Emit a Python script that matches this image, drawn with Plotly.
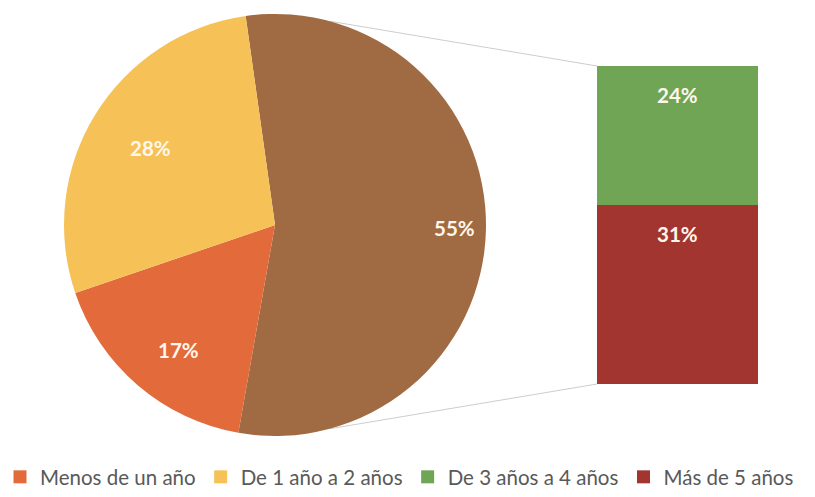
import math
import plotly.graph_objects as go

# Pie: the two short-tenure groups plus the combined "3 years and more" slice
pie_labels = ["3 años o más", "Menos de un año", "De 1 año a 2 años"]
pie_values = [55, 17, 28]

# Bar: breakdown of the combined slice
bar_category = ["3 años o más"]
bar_labels = ["Más de 5 años", "De 3 años a 4 años"]
bar_values = [31, 24]

legend_labels = ["Menos de un año", "De 1 año a 2 años", "De 3 años a 4 años", "Más de 5 años"]

COLORS = {
    "3 años o más": "#A06B42",
    "Menos de un año": "#E26A3B",
    "De 1 año a 2 años": "#F6C257",
    "De 3 años a 4 años": "#70A555",
    "Más de 5 años": "#A2352F",
}

W, H = 815, 497
CX, CY, R = 275, 225, 211          # pie centre / radius in pixels
ROTATION = -8                      # first slice starts just left of 12 o'clock
LABEL_RADIUS = [0.85, 0.87, 0.82]  # label distance from centre, fraction of R
BAR_LEFT, BAR_RIGHT, BAR_TOP, BAR_BOTTOM = 597, 758, 66, 384
CONNECTOR_ANGLES = (15, 165)       # where the connector lines leave the pie rim

FONT = "Lato, Open Sans, sans-serif"
LABEL_FONT = dict(family=FONT, size=20.5, color="#FFF7EC")

fig = go.Figure()

fig.add_trace(go.Pie(
    labels=pie_labels,
    values=pie_values,
    sort=False,
    direction="clockwise",
    rotation=ROTATION,
    marker=dict(colors=[COLORS[l] for l in pie_labels], line=dict(width=0)),
    textinfo="none",
    hoverinfo="label+percent",
    showlegend=False,
    domain=dict(x=[(CX - R) / W, (CX + R) / W], y=[1 - (CY + R) / H, 1 - (CY - R) / H]),
))

# Stacked bar with the breakdown
for name, val in zip(bar_labels, bar_values):
    fig.add_trace(go.Bar(
        x=bar_category, y=[val], name=name,
        marker=dict(color=COLORS[name], line=dict(width=0)),
        hoverinfo="name+y", showlegend=False,
    ))

# Legend entries, in the order shown under the chart
for name in legend_labels:
    fig.add_trace(go.Scatter(
        x=[None], y=[None], mode="markers", name=name,
        marker=dict(symbol="square", size=13, color=COLORS[name]),
    ))

annotations = []

# Pie percentage labels, placed along each slice's mid-angle
total = sum(pie_values)
start = ROTATION
for val, frac in zip(pie_values, LABEL_RADIUS):
    sweep = 360 * val / total
    mid = math.radians(start + sweep / 2)
    px = CX + frac * R * math.sin(mid)
    py = CY - frac * R * math.cos(mid)
    annotations.append(dict(
        x=px / W, y=1 - py / H, xref="paper", yref="paper",
        text=f"<b>{round(100 * val / total)}%</b>", showarrow=False, font=LABEL_FONT,
    ))
    start += sweep

# Bar segment labels near the top of each segment
cum = 0
for val in bar_values:
    cum += val
    annotations.append(dict(
        x=bar_category[0], y=cum, xref="x", yref="y", yshift=-29,
        text=f"<b>{round(100 * val / total)}%</b>", showarrow=False, font=LABEL_FONT,
    ))

# Connector lines from the pie rim to the bar's left corners
ydom0, ydom1 = 1 - BAR_BOTTOM / H, 1 - BAR_TOP / H
ytot = sum(bar_values)


def rim_point(angle_deg):
    a = math.radians(angle_deg)
    return (CX + R * math.sin(a)) / W, 1 - (CY - R * math.cos(a)) / H


line_style = dict(color="#CDCDCD", width=1)
shapes = []
for angle, y_end in zip(CONNECTOR_ANGLES, (ydom1, ydom0)):
    x0, y0 = rim_point(angle)
    shapes.append(dict(type="line", xref="paper", yref="paper", x0=x0, y0=y0,
                       x1=BAR_LEFT / W, y1=y_end, layer="below", line=line_style))

fig.update_layout(
    width=W, height=H,
    margin=dict(l=0, r=0, t=0, b=0, autoexpand=False),
    paper_bgcolor="white", plot_bgcolor="white",
    barmode="stack", bargap=0,
    xaxis=dict(domain=[BAR_LEFT / W, BAR_RIGHT / W], type="category", range=[-0.5, 0.5],
               visible=False, fixedrange=True),
    yaxis=dict(domain=[ydom0, ydom1], range=[0, ytot], visible=False, fixedrange=True),
    legend=dict(orientation="h", x=0.0, xanchor="left", y=0, yanchor="bottom",
                font=dict(family=FONT, size=20.5, color="#595959"),
                itemwidth=30, traceorder="normal", bgcolor="rgba(0,0,0,0)"),
    annotations=annotations,
    shapes=shapes,
    font=dict(family=FONT),
)

fig.write_html("out.html")
